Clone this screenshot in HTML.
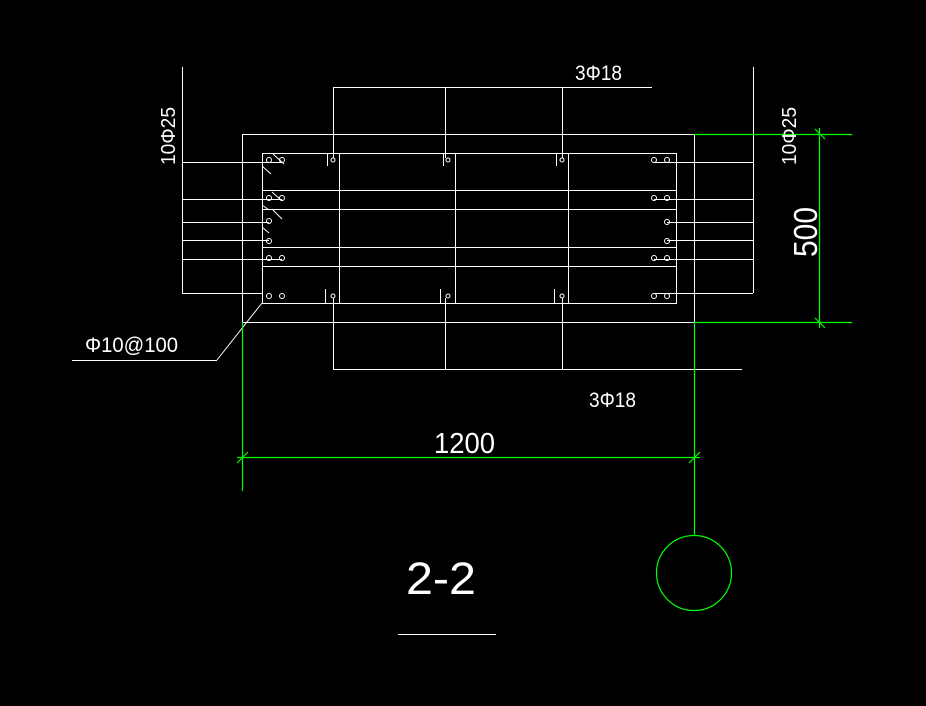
<!DOCTYPE html>
<html><head><meta charset="utf-8"><style>
html,body{margin:0;padding:0;background:#000;width:926px;height:706px;overflow:hidden}
svg{display:block}
text{font-family:"Liberation Sans","DejaVu Sans",sans-serif;fill:#fff}
</style></head><body>
<svg width="926" height="706" viewBox="0 0 926 706" xmlns="http://www.w3.org/2000/svg">
<g stroke="#fff" stroke-width="1" fill="none" shape-rendering="crispEdges">
<!-- outer rect -->
<rect x="242.5" y="134.5" width="452" height="188"/>
<!-- inner rect -->
<rect x="262.5" y="153.5" width="414" height="150"/>
<!-- inner horizontals -->
<line x1="262" y1="190.5" x2="676" y2="190.5"/>
<line x1="262" y1="209.5" x2="676" y2="209.5"/>
<line x1="262" y1="247.5" x2="676" y2="247.5"/>
<line x1="262" y1="266.5" x2="676" y2="266.5"/>
<!-- inner verticals -->
<line x1="339.5" y1="153" x2="339.5" y2="303"/>
<line x1="455.5" y1="153" x2="455.5" y2="303"/>
<line x1="568.5" y1="153" x2="568.5" y2="303"/>
<!-- left leader -->
<line x1="182.5" y1="67" x2="182.5" y2="293"/>
<line x1="182" y1="162.5" x2="282" y2="162.5"/>
<line x1="182" y1="199.5" x2="282" y2="199.5"/>
<line x1="182" y1="222.5" x2="269" y2="222.5"/>
<line x1="182" y1="240.5" x2="269" y2="240.5"/>
<line x1="182" y1="259.5" x2="282" y2="259.5"/>
<line x1="182" y1="293.5" x2="262" y2="293.5"/>
<!-- right leader -->
<line x1="753.5" y1="67" x2="753.5" y2="293"/>
<line x1="654" y1="162.5" x2="753" y2="162.5"/>
<line x1="654" y1="199.5" x2="753" y2="199.5"/>
<line x1="667" y1="222.5" x2="753" y2="222.5"/>
<line x1="667" y1="240.5" x2="753" y2="240.5"/>
<line x1="654" y1="259.5" x2="753" y2="259.5"/>
<line x1="654" y1="293.5" x2="753" y2="293.5"/>
<!-- top 3Φ18 leader -->
<line x1="333" y1="87.5" x2="652" y2="87.5"/>
<line x1="333.5" y1="87" x2="333.5" y2="158"/>
<line x1="445.5" y1="87" x2="445.5" y2="158"/>
<line x1="562.5" y1="87" x2="562.5" y2="158"/>
<line x1="327.5" y1="153" x2="327.5" y2="166"/>
<line x1="443.5" y1="153" x2="443.5" y2="166"/>
<line x1="556.5" y1="153" x2="556.5" y2="166"/>
<!-- bottom 3Φ18 leader -->
<line x1="333.5" y1="298" x2="333.5" y2="369"/>
<line x1="445.5" y1="298" x2="445.5" y2="369"/>
<line x1="562.5" y1="298" x2="562.5" y2="369"/>
<line x1="333" y1="369.5" x2="742" y2="369.5"/>
<line x1="325.5" y1="289" x2="325.5" y2="303"/>
<line x1="440.5" y1="289" x2="440.5" y2="303"/>
<line x1="554.5" y1="289" x2="554.5" y2="303"/>
<!-- Φ10@100 leader -->
<line x1="72" y1="360.5" x2="217" y2="360.5"/>
</g>
<g stroke="#fff" stroke-width="1" fill="none">
<line x1="217" y1="360" x2="262" y2="303"/>
<!-- hooks -->
<line x1="273" y1="154" x2="284" y2="164"/>
<line x1="262" y1="166" x2="271" y2="174"/>
<line x1="272" y1="192" x2="282" y2="201"/>
<line x1="262" y1="205" x2="269" y2="210"/>
<line x1="272" y1="209" x2="282" y2="219"/>
<line x1="262" y1="227" x2="269" y2="233"/>
<!-- bars left -->
<circle cx="269" cy="160" r="2.5"/><circle cx="282" cy="160" r="2.5"/>
<circle cx="269" cy="198" r="2.5"/><circle cx="282" cy="198" r="2.5"/>
<circle cx="269" cy="221" r="2.5"/>
<circle cx="269" cy="241" r="2.5"/>
<circle cx="269" cy="258" r="2.5"/><circle cx="282" cy="258" r="2.5"/>
<circle cx="269" cy="296" r="2.5"/><circle cx="282" cy="296" r="2.5"/>
<!-- bars right -->
<circle cx="654" cy="160" r="2.5"/><circle cx="667" cy="160" r="2.5"/>
<circle cx="654" cy="198" r="2.5"/><circle cx="667" cy="198" r="2.5"/>
<circle cx="667" cy="222" r="2.5"/>
<circle cx="667" cy="241" r="2.5"/>
<circle cx="654" cy="258" r="2.5"/><circle cx="667" cy="258" r="2.5"/>
<circle cx="654" cy="296" r="2.5"/><circle cx="667" cy="296" r="2.5"/>
<!-- bars top/bottom middle -->
<circle cx="333" cy="160" r="2"/><circle cx="448" cy="160" r="2"/><circle cx="562" cy="160" r="2"/>
<circle cx="333" cy="296" r="2"/><circle cx="448" cy="296" r="2"/><circle cx="562" cy="296" r="2"/>
</g>
<!-- green -->
<g stroke="#00ff00" stroke-width="1.2" fill="none">
<line x1="694" y1="134.5" x2="852" y2="134.5"/>
<line x1="694" y1="322.5" x2="852" y2="322.5"/>
<line x1="819.5" y1="128" x2="819.5" y2="328"/>
<line x1="815" y1="129" x2="825" y2="139"/>
<line x1="815" y1="318" x2="825" y2="328"/>
<line x1="694.5" y1="322" x2="694.5" y2="535"/>
<line x1="242.5" y1="322" x2="242.5" y2="491"/>
<line x1="237" y1="457.5" x2="700" y2="457.5"/>
<line x1="237" y1="463" x2="248" y2="452"/>
<line x1="689" y1="463" x2="700" y2="452"/>
<circle cx="694" cy="573" r="37.5"/>
</g>
<!-- text -->
<text x="575" y="80" font-size="21" textLength="47" lengthAdjust="spacingAndGlyphs">3Φ18</text>
<text x="589" y="407" font-size="21" textLength="47" lengthAdjust="spacingAndGlyphs">3Φ18</text>
<text x="85" y="352" font-size="21" textLength="93" lengthAdjust="spacingAndGlyphs">Φ10@100</text>
<text x="434" y="453" font-size="29" textLength="61" lengthAdjust="spacingAndGlyphs">1200</text>
<text x="406" y="594" font-size="45" textLength="70" lengthAdjust="spacingAndGlyphs">2-2</text>
<text transform="translate(175,165) rotate(-90)" font-size="20" textLength="58" lengthAdjust="spacingAndGlyphs">10Φ25</text>
<text transform="translate(796,165) rotate(-90)" font-size="20" textLength="58" lengthAdjust="spacingAndGlyphs">10Φ25</text>
<text transform="translate(817,257) rotate(-90)" font-size="33" textLength="50" lengthAdjust="spacingAndGlyphs">500</text>
</svg>
<div style="position:absolute;left:398px;top:634px;width:98px;height:1px;background:#fff"></div>
</body></html>
